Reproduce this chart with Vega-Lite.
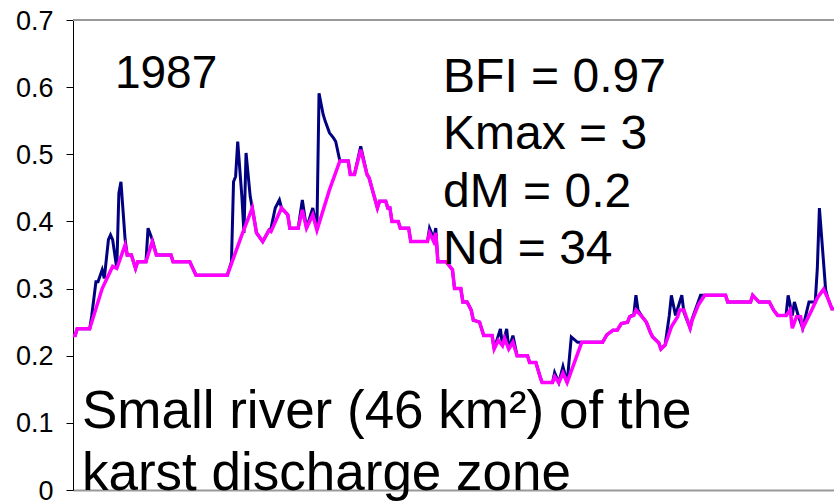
{
  "$schema": "https://vega.github.io/schema/vega-lite/v6.json",
  "width": 761,
  "height": 470,
  "autosize": "none",
  "padding": {"left": 73, "top": 20, "right": 0, "bottom": 14},
  "background": "white",
  "config": {"view": {"stroke": null}, "font": "Liberation Sans"},
  "datasets": {
    "discharge": [
      {"day":1,"flow":0.23},{"day":2,"flow":0.23},{"day":3,"flow":0.24},{"day":9,"flow":0.24},{"day":10,"flow":0.26},{"day":12,"flow":0.31},{"day":13,"flow":0.31},{"day":15,"flow":0.328},{"day":16,"flow":0.315},{"day":18,"flow":0.373},{"day":19,"flow":0.38},{"day":20,"flow":0.373},{"day":22,"flow":0.33},{"day":23,"flow":0.442},{"day":24,"flow":0.459},{"day":26,"flow":0.373},{"day":27,"flow":0.35},{"day":29,"flow":0.35},{"day":31,"flow":0.33},{"day":32,"flow":0.34},{"day":36,"flow":0.34},{"day":37,"flow":0.39},{"day":39,"flow":0.373},{"day":41,"flow":0.35},{"day":48,"flow":0.35},{"day":49,"flow":0.34},{"day":57,"flow":0.34},{"day":60,"flow":0.32},{"day":75,"flow":0.32},{"day":77,"flow":0.34},{"day":78,"flow":0.459},{"day":79,"flow":0.467},{"day":80,"flow":0.519},{"day":82,"flow":0.437},{"day":83,"flow":0.383},{"day":84,"flow":0.502},{"day":86,"flow":0.437},{"day":87,"flow":0.42},{"day":89,"flow":0.383},{"day":92,"flow":0.37},{"day":95,"flow":0.387},{"day":96,"flow":0.39},{"day":98,"flow":0.42},{"day":100,"flow":0.432},{"day":101,"flow":0.42},{"day":104,"flow":0.41},{"day":105,"flow":0.39},{"day":109,"flow":0.39},{"day":111,"flow":0.432},{"day":113,"flow":0.39},{"day":116,"flow":0.42},{"day":118,"flow":0.39},{"day":119,"flow":0.591},{"day":121,"flow":0.559},{"day":122,"flow":0.549},{"day":124,"flow":0.532},{"day":126,"flow":0.524},{"day":127,"flow":0.519},{"day":129,"flow":0.49},{"day":133,"flow":0.49},{"day":134,"flow":0.47},{"day":136,"flow":0.47},{"day":139,"flow":0.512},{"day":142,"flow":0.47},{"day":143,"flow":0.465},{"day":147,"flow":0.42},{"day":148,"flow":0.43},{"day":151,"flow":0.43},{"day":152,"flow":0.42},{"day":153,"flow":0.42},{"day":154,"flow":0.4},{"day":157,"flow":0.4},{"day":158,"flow":0.39},{"day":162,"flow":0.39},{"day":163,"flow":0.37},{"day":171,"flow":0.37},{"day":172,"flow":0.39},{"day":174,"flow":0.375},{"day":175,"flow":0.39},{"day":176,"flow":0.34},{"day":180,"flow":0.34},{"day":183,"flow":0.328},{"day":184,"flow":0.3},{"day":187,"flow":0.3},{"day":188,"flow":0.28},{"day":190,"flow":0.28},{"day":192,"flow":0.268},{"day":193,"flow":0.253},{"day":196,"flow":0.25},{"day":198,"flow":0.23},{"day":202,"flow":0.23},{"day":203,"flow":0.21},{"day":206,"flow":0.24},{"day":207,"flow":0.215},{"day":209,"flow":0.24},{"day":210,"flow":0.21},{"day":212,"flow":0.23},{"day":214,"flow":0.2},{"day":219,"flow":0.2},{"day":220,"flow":0.19},{"day":223,"flow":0.19},{"day":225,"flow":0.169},{"day":226,"flow":0.16},{"day":231,"flow":0.16},{"day":232,"flow":0.175},{"day":234,"flow":0.16},{"day":236,"flow":0.184},{"day":238,"flow":0.16},{"day":240,"flow":0.228},{"day":243,"flow":0.22},{"day":255,"flow":0.22},{"day":257,"flow":0.231},{"day":260,"flow":0.238},{"day":262,"flow":0.238},{"day":264,"flow":0.248},{"day":267,"flow":0.25},{"day":268,"flow":0.258},{"day":270,"flow":0.262},{"day":271,"flow":0.29},{"day":272,"flow":0.268},{"day":274,"flow":0.258},{"day":276,"flow":0.25},{"day":278,"flow":0.234},{"day":279,"flow":0.228},{"day":282,"flow":0.219},{"day":283,"flow":0.21},{"day":285,"flow":0.216},{"day":287,"flow":0.26},{"day":288,"flow":0.29},{"day":290,"flow":0.26},{"day":293,"flow":0.29},{"day":294,"flow":0.265},{"day":297,"flow":0.241},{"day":298,"flow":0.255},{"day":302,"flow":0.29},{"day":314,"flow":0.29},{"day":315,"flow":0.28},{"day":326,"flow":0.28},{"day":327,"flow":0.29},{"day":330,"flow":0.28},{"day":335,"flow":0.28},{"day":337,"flow":0.268},{"day":339,"flow":0.26},{"day":343,"flow":0.26},{"day":344,"flow":0.29},{"day":346,"flow":0.26},{"day":347,"flow":0.28},{"day":349,"flow":0.258},{"day":351,"flow":0.241},{"day":354,"flow":0.28},{"day":357,"flow":0.28},{"day":358,"flow":0.33},{"day":359,"flow":0.42},{"day":362,"flow":0.298},{"day":363,"flow":0.286},{"day":365,"flow":0.27},{"day":366,"flow":0.27}
    ],
    "baseflow": [
      {"day":1,"flow":0.23},{"day":2,"flow":0.23},{"day":3,"flow":0.24},{"day":9,"flow":0.24},{"day":15,"flow":0.3},{"day":20,"flow":0.333},{"day":22,"flow":0.33},{"day":26,"flow":0.365},{"day":27,"flow":0.35},{"day":29,"flow":0.35},{"day":31,"flow":0.33},{"day":32,"flow":0.34},{"day":36,"flow":0.34},{"day":39,"flow":0.37},{"day":41,"flow":0.35},{"day":48,"flow":0.35},{"day":49,"flow":0.34},{"day":57,"flow":0.34},{"day":60,"flow":0.32},{"day":75,"flow":0.32},{"day":82,"flow":0.38},{"day":87,"flow":0.42},{"day":89,"flow":0.383},{"day":92,"flow":0.37},{"day":95,"flow":0.387},{"day":96,"flow":0.385},{"day":101,"flow":0.42},{"day":104,"flow":0.41},{"day":105,"flow":0.39},{"day":109,"flow":0.39},{"day":111,"flow":0.417},{"day":113,"flow":0.39},{"day":116,"flow":0.41},{"day":118,"flow":0.387},{"day":124,"flow":0.447},{"day":129,"flow":0.49},{"day":133,"flow":0.49},{"day":134,"flow":0.47},{"day":136,"flow":0.47},{"day":139,"flow":0.507},{"day":142,"flow":0.47},{"day":143,"flow":0.465},{"day":147,"flow":0.42},{"day":148,"flow":0.43},{"day":151,"flow":0.43},{"day":152,"flow":0.42},{"day":153,"flow":0.42},{"day":154,"flow":0.4},{"day":157,"flow":0.4},{"day":158,"flow":0.39},{"day":162,"flow":0.39},{"day":163,"flow":0.37},{"day":171,"flow":0.37},{"day":172,"flow":0.383},{"day":174,"flow":0.37},{"day":175,"flow":0.383},{"day":176,"flow":0.34},{"day":180,"flow":0.34},{"day":183,"flow":0.328},{"day":184,"flow":0.3},{"day":187,"flow":0.3},{"day":188,"flow":0.28},{"day":190,"flow":0.28},{"day":192,"flow":0.268},{"day":193,"flow":0.253},{"day":196,"flow":0.25},{"day":198,"flow":0.23},{"day":202,"flow":0.23},{"day":203,"flow":0.21},{"day":205,"flow":0.223},{"day":207,"flow":0.215},{"day":208,"flow":0.226},{"day":210,"flow":0.21},{"day":212,"flow":0.22},{"day":214,"flow":0.2},{"day":219,"flow":0.2},{"day":220,"flow":0.19},{"day":223,"flow":0.19},{"day":225,"flow":0.169},{"day":226,"flow":0.16},{"day":231,"flow":0.16},{"day":232,"flow":0.169},{"day":234,"flow":0.16},{"day":236,"flow":0.174},{"day":238,"flow":0.16},{"day":245,"flow":0.22},{"day":255,"flow":0.22},{"day":257,"flow":0.231},{"day":260,"flow":0.238},{"day":262,"flow":0.238},{"day":264,"flow":0.248},{"day":267,"flow":0.25},{"day":268,"flow":0.258},{"day":270,"flow":0.26},{"day":271,"flow":0.268},{"day":274,"flow":0.258},{"day":276,"flow":0.25},{"day":278,"flow":0.234},{"day":279,"flow":0.228},{"day":282,"flow":0.219},{"day":283,"flow":0.21},{"day":285,"flow":0.216},{"day":288,"flow":0.243},{"day":291,"flow":0.258},{"day":292,"flow":0.268},{"day":294,"flow":0.268},{"day":297,"flow":0.241},{"day":298,"flow":0.253},{"day":301,"flow":0.276},{"day":304,"flow":0.29},{"day":314,"flow":0.29},{"day":315,"flow":0.28},{"day":326,"flow":0.28},{"day":327,"flow":0.29},{"day":330,"flow":0.28},{"day":335,"flow":0.28},{"day":337,"flow":0.268},{"day":339,"flow":0.26},{"day":343,"flow":0.26},{"day":345,"flow":0.268},{"day":346,"flow":0.241},{"day":348,"flow":0.258},{"day":350,"flow":0.258},{"day":351,"flow":0.241},{"day":355,"flow":0.266},{"day":358,"flow":0.286},{"day":361,"flow":0.299},{"day":363,"flow":0.286},{"day":365,"flow":0.27},{"day":366,"flow":0.27}
    ]
  },
  "layer": [
    {
      "data": {"values": [{}]},
      "mark": {"type": "rule", "color": "#999999", "strokeWidth": 2},
      "encoding": {"y": {"datum": 0.7, "type": "quantitative"}}
    },
    {
      "data": {"name": "discharge"},
      "mark": {"type": "line", "color": "#000080", "strokeWidth": 3},
      "encoding": {
        "x": {"field": "day", "type": "quantitative", "scale": {"domain": [1, 366], "nice": false, "zero": false},
              "axis": {"title": null, "labels": false, "ticks": false, "grid": false, "domainColor": "#999999", "domainWidth": 2}},
        "y": {"field": "flow", "type": "quantitative", "scale": {"domain": [0, 0.7], "nice": false},
              "axis": {"title": null, "values": [0, 0.1, 0.2, 0.3, 0.4, 0.5, 0.6, 0.7], "format": ".1~f", "grid": false,
                       "domainColor": "black", "domainWidth": 1, "tickColor": "black", "tickSize": 7, "labelPadding": 13,
                       "labelFontSize": 27, "labelFont": "Liberation Sans", "labelColor": "black", "labelBaseline": "middle", "labelOffset": 1}}
      }
    },
    {
      "data": {"name": "baseflow"},
      "mark": {"type": "line", "color": "#FF00FF", "strokeWidth": 3.5},
      "encoding": {
        "x": {"field": "day", "type": "quantitative"},
        "y": {"field": "flow", "type": "quantitative"}
      }
    },
    {
      "data": {"values": [{}]},
      "mark": {"type": "text", "text": "1987", "align": "left", "baseline": "alphabetic", "fontSize": 46, "color": "black", "font": "Liberation Sans"},
      "encoding": {"x": {"datum": 21.1, "type": "quantitative"}, "y": {"datum": 0.599, "type": "quantitative"}}
    },
    {
      "data": {"values": [{}]},
      "mark": {"type": "text", "text": ["BFI = 0.97", "Kmax = 3", "dM = 0.2", "Nd = 34"], "align": "left", "baseline": "alphabetic", "fontSize": 48, "lineHeight": 57.5, "color": "black", "font": "Liberation Sans"},
      "encoding": {"x": {"datum": 178.5, "type": "quantitative"}, "y": {"datum": 0.593, "type": "quantitative"}}
    },
    {
      "data": {"values": [{}]},
      "mark": {"type": "text", "text": ["Small river (46 km²) of the", "karst discharge zone"], "align": "left", "baseline": "alphabetic", "fontSize": 53, "lineHeight": 62, "color": "black", "font": "Liberation Sans"},
      "encoding": {"x": {"datum": 5.3, "type": "quantitative"}, "y": {"datum": 0.0924, "type": "quantitative"}}
    }
  ]
}
